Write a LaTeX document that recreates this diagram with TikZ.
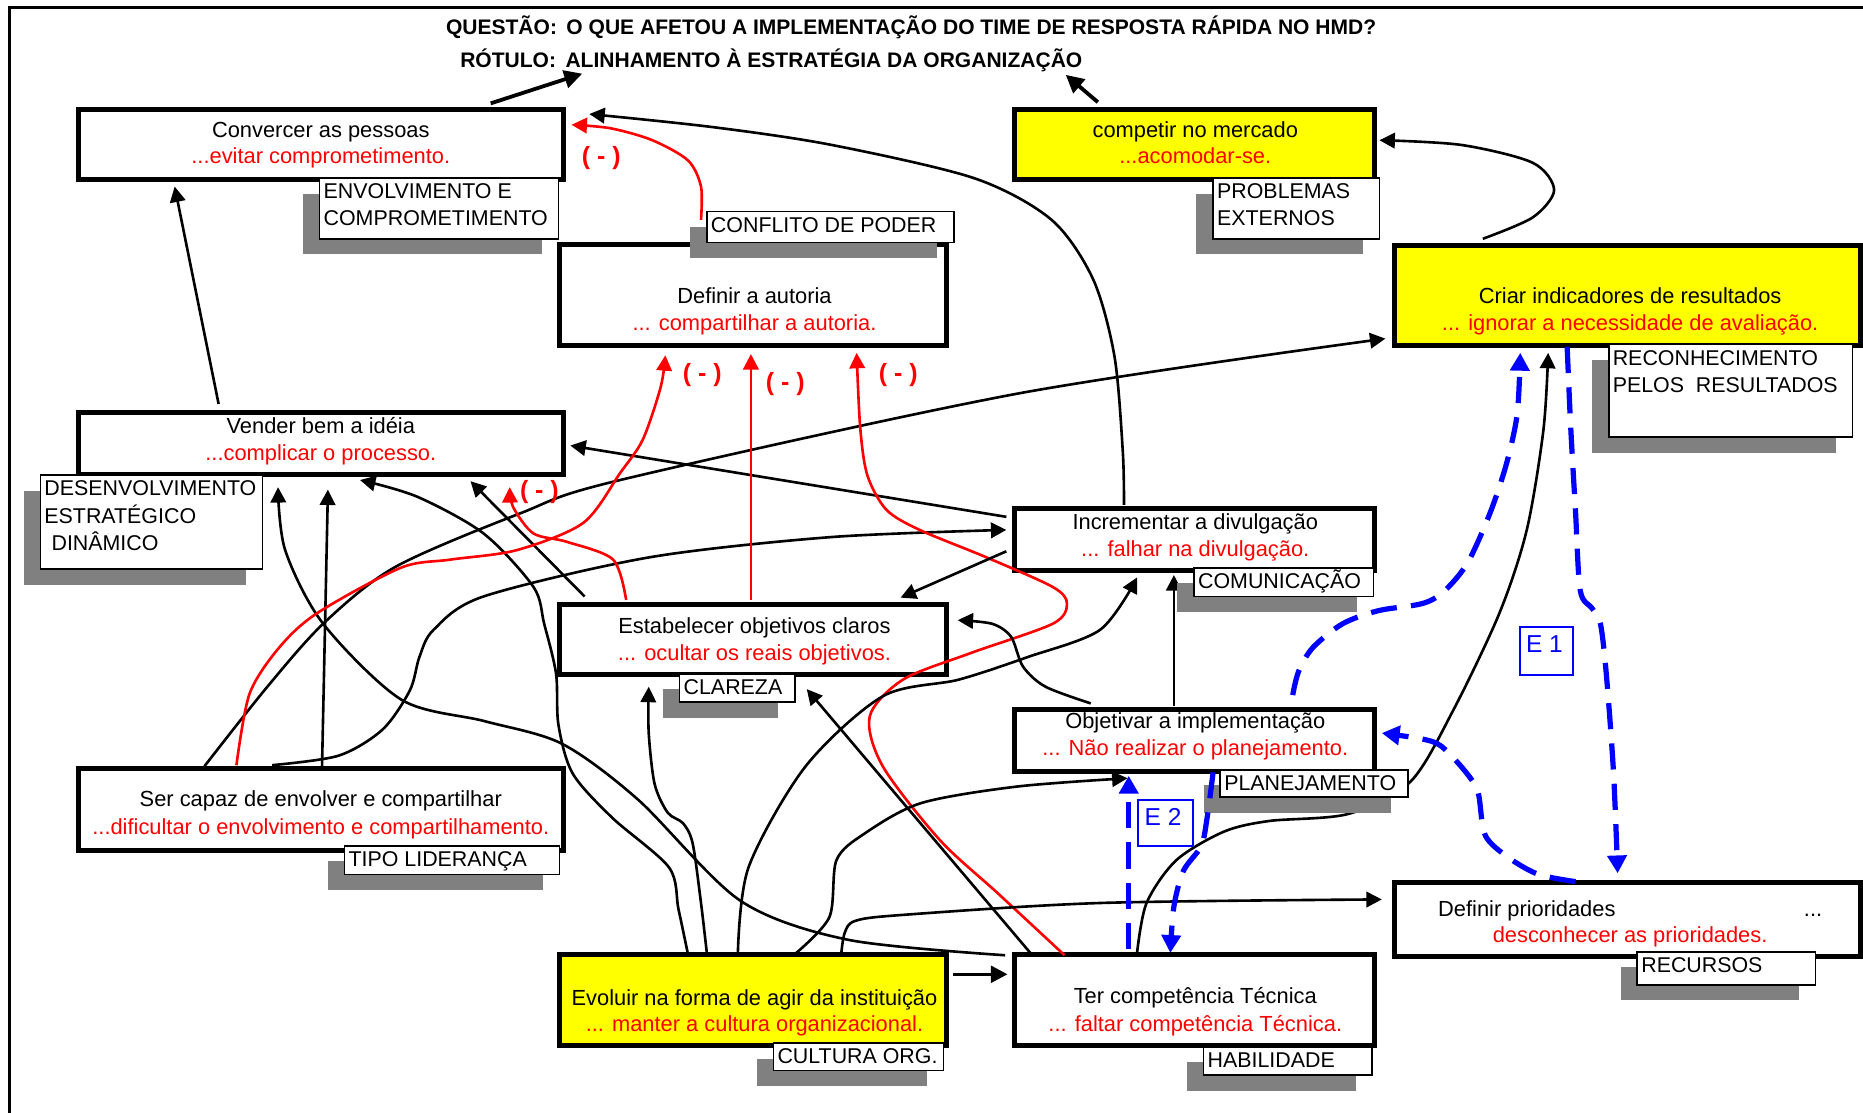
\documentclass[tikz,border=0pt]{standalone}
\usepackage{fontspec}
\setmainfont{Liberation Sans}
\usetikzlibrary{arrows.meta,fit,calc}
\pgfdeclarelayer{boxes}
\pgfdeclarelayer{conns}
\pgfdeclarelayer{bluelayer}
\pgfsetlayers{boxes,conns,main,bluelayer}
\definecolor{shadowgray}{RGB}{128,128,128}
\definecolor{boxyellow}{RGB}{255,255,0}
\tikzset{
  box/.style={draw=black, line width=2.1pt, fill=white, inner sep=0pt, outer sep=0pt},
  ybox/.style={box, fill=boxyellow},
  labbox/.style={draw=black, line width=0.7pt, fill=white, inner sep=0pt, outer sep=0pt},
  labtxt/.style={font=\fontsize{9}{11.4}\selectfont, align=left, inner sep=0pt, anchor=north west},
  btxt/.style={font=\fontsize{9.2}{11}\selectfont, inner sep=0pt, anchor=base},
  rtxt/.style={btxt, text=red},
  ttxt/.style={font=\fontsize{8.85}{10}\selectfont\bfseries, inner sep=0pt, anchor=base west},
  negsign/.style={font=\fontsize{10.5}{12}\selectfont\bfseries, text=red, inner sep=0pt},
  conn/.style={line width=1.1pt, draw=black, -{Triangle[length=6.5pt,width=6.5pt]}},
  rconn/.style={line width=1.1pt, draw=red, -{Triangle[length=6.5pt,width=6.5pt]}},
  tconn/.style={line width=1.6pt, draw=black, -{Triangle[length=7.5pt,width=7.5pt]}},
  hconn/.style={line width=1.4pt, draw=black, -{Triangle[length=7pt,width=7pt]}},
  bconn/.style={line width=2.2pt, draw=blue, dash pattern=on 11pt off 6pt, -{Triangle[length=7.5pt,width=8pt]}},
  ebox/.style={draw=blue, line width=0.8pt, inner sep=0pt, outer sep=0pt},
  etxt/.style={font=\fontsize{10.3}{12}\selectfont, text=blue, inner sep=0pt, anchor=base west},
}
\newcommand\mklabel[6]{%
  \fill[shadowgray] (#2-14,#3+13) rectangle (#4-14,#5+13);
  \node[labbox, fit={(#2,#3) (#4,#5)}] (#1) {};
  \node[labtxt] (#1-t) at (#2+3,#3-2) {\rule{0pt}{9.5pt}#6};
}
\begin{document}
\begin{tikzpicture}[x=0.5pt, y=-0.5pt]
\useasboundingbox (0,0) rectangle (1568,936);

\begin{pgfonlayer}{boxes}
\draw[line width=1.2pt] (1600,6) -- (8,6) -- (8,960);
\node[box, fit={(66,92) (474,151)}] (cv) {};
\node[ybox, fit={(854,92) (1157,151)}] (cp) {};
\node[box, fit={(471,206) (797,291)}] (da) {};
\node[ybox, fit={(1174,207) (1566,291)}] (ci) {};
\node[box, fit={(66,347) (474,399)}] (vd) {};
\node[box, fit={(854,428) (1157,480)}] (id) {};
\node[box, fit={(471,509) (797,568)}] (eo) {};
\node[box, fit={(854,597) (1157,649)}] (oi) {};
\node[box, fit={(66,647) (474,716)}] (sc) {};
\node[box, fit={(1174,743) (1566,805)}] (dp) {};
\node[ybox, fit={(471,803) (797,880)}] (ev) {};
\node[box, fit={(854,803) (1157,880)}] (tc) {};
\end{pgfonlayer}

% titles
\node[ttxt] (t1) at (375,29) {QUESTÃO:\hspace{0.45em}O QUE AFETOU A IMPLEMENTAÇÃO DO TIME DE RESPOSTA RÁPIDA NO HMD?};
\node[ttxt] (t2) at (387,56.5) {RÓTULO:\hspace{0.45em}ALINHAMENTO À ESTRATÉGIA DA ORGANIZAÇÃO};

% labels
\mklabel{lenv}{269}{150}{470}{201}{ENVOLVIMENTO E\\COMPROMETIMENTO}
\mklabel{lprob}{1021}{150}{1161}{201}{PROBLEMAS\\EXTERNOS}
\mklabel{lconf}{595}{178}{803}{204}{CONFLITO DE PODER}
\mklabel{lrec}{1354}{290}{1559}{368}{RECONHECIMENTO\\PELOS\hspace{0.55em}RESULTADOS}
\mklabel{ldes}{34}{400}{221}{479}{DESENVOLVIMENTO\\ESTRATÉGICO\\\hspace*{3pt}DINÂMICO}
\mklabel{lcom}{1005}{478}{1156}{502}{COMUNICAÇÃO}
\mklabel{lcla}{572}{567}{669}{591}{CLAREZA}
\mklabel{lpla}{1027}{648}{1185}{671}{PLANEJAMENTO}
\mklabel{ltip}{290}{712}{471}{736}{TIPO LIDERANÇA}
\mklabel{lrcs}{1378}{801}{1528}{829}{RECURSOS}
\mklabel{lcul}{651}{878}{794}{901}{CULTURA ORG.}
\mklabel{lhab}{1013}{881}{1155}{905}{HABILIDADE}

% box texts
\node[btxt] (cv-a) at (270,115.5) {Convercer as pessoas};
\node[rtxt] (cv-b) at (270,137.5) {...evitar comprometimento.};
\node[btxt] (cp-a) at (1006,115.5) {competir no mercado};
\node[rtxt] (cp-b) at (1006,137.5) {...acomodar-se.};
\node[btxt] (da-a) at (635,255.5) {Definir a autoria};
\node[rtxt] (da-b) at (635,278.5) {... compartilhar a autoria.};
\node[btxt] (ci-a) at (1372,255.5) {Criar indicadores de resultados};
\node[rtxt] (ci-b) at (1372,278.5) {... ignorar a necessidade de avaliação.};
\node[btxt] (vd-a) at (270,364.5) {Vender bem a idéia};
\node[rtxt] (vd-b) at (270,387.5) {...complicar o processo.};
\node[btxt] (id-a) at (1006,445.5) {Incrementar a divulgação};
\node[rtxt] (id-b) at (1006,468.5) {... falhar na divulgação.};
\node[btxt] (eo-a) at (635,533) {Estabelecer objetivos claros};
\node[rtxt] (eo-b) at (635,555.5) {... ocultar os reais objetivos.};
\node[btxt] (oi-a) at (1006,613) {Objetivar a implementação};
\node[rtxt] (oi-b) at (1006,635.5) {... Não realizar o planejamento.};
\node[btxt] (sc-a) at (270,679) {Ser capaz de envolver e compartilhar};
\node[rtxt] (sc-b) at (270,702) {...dificultar o envolvimento e compartilhamento.};
\node[btxt, anchor=base west] (dp-a) at (1210,771) {Definir prioridades};
\node[btxt, anchor=base east] (dp-c) at (1534,771) {...};
\node[rtxt] (dp-b) at (1372,793) {desconhecer as prioridades.};
\node[btxt] (ev-a) at (635,846) {Evoluir na forma de agir da instituição};
\node[rtxt] (ev-b) at (635,868.5) {... manter a cultura organizacional.};
\node[btxt] (tc-a) at (1006,845) {Ter competência Técnica};
\node[rtxt] (tc-b) at (1006,868) {... faltar competência Técnica.};

% (-) signs
\node[negsign] (m0) at (506,133) {( - )};
\node[negsign] (m1) at (454,414) {( - )};
\node[negsign] (m2) at (591,316) {( - )};
\node[negsign] (m3) at (661,323) {( - )};
\node[negsign] (m4) at (756,316) {( - )};

\begin{pgfonlayer}{conns}
\draw[tconn] ($(cv.north east)+(-61,-5)$) -- ($(t2.base west)+(103,5.5)$);
\draw[tconn] ($(cp.north west)+(70,-6)$) -- ($(t2.base west)+(510,6.5)$);
\draw[conn] ($(vd.north west)+(118,-7)$) -- ($(cv.south west)+(81,6)$);
\draw[rconn] plot[smooth] coordinates {($(lconf.north west)+(-5,7)$) (590,157) (579,135) (549,118) (514,108) ($(cv.north east)+(7,13)$)};
\draw[conn] plot[smooth] coordinates {($(id.north west)+(92,-3)$) (945,380) (938,300) (920,235) (885,185) (820,150) (700,122) (600,107) ($(cv.north east)+(22,4)$)};
\draw[conn] plot[smooth] coordinates {($(ci.north west)+(74,-6)$) (1290,183) (1308,160) (1290,137) (1230,122) ($(cp.north east)+(4,26)$)};
\draw[conn] plot[smooth] coordinates {($(sc.north west)+(106,-2)$) (225,578) (273,524) (333,477) (438,432) (522,404) (858,331) ($(ci.south west)+(-8,-6)$)};
\draw[conn] ($(id.north west)+(-7,7)$) -- ($(vd.north east)+(6,28)$);
\draw[conn] plot[smooth] coordinates {($(sc.north west)+(163,-3)$) (285,636) (322,614) (345,581) (353,553) (365,530) (407,502) (547,469) (700,452) ($(id.north west)+(-7,18)$)};
\draw[conn] ($(sc.north west)+(205,0)$) -- ($(vd.south west)+(210,13)$);
\draw[conn] plot[smooth] coordinates {($(tc.north west)+(-8,1)$) (714,791) (623,758) (537,673) (473,626) (408,607) (338,589) (272,525) (240,463) ($(vd.south west)+(168,11)$)};
\draw[conn] plot[smooth] coordinates {($(ev.north west)+(108,0)$) (571,765) (563,730) (515,688) (482,651) (470,610) (468,567) (458,525) (449,494) (407,449) (351,418) ($(vd.south west)+(237,5)$)};
\draw[conn] ($(eo.north west)+(21,-7)$) -- ($(vd.south west)+(330,6)$);
\draw[rconn] plot[smooth] coordinates {($(eo.north west)+(56,-4)$) (516,471) (477,456) (449,449) (432,427) ($(vd.south west)+(363,11)$)};
\draw[rconn] plot[smooth] coordinates {($(sc.north west)+(133,-3)$) (210,584) (235,545) (267,516) (337,478) (379,471) (435,463) (491,440) (522,398) (541,370) (556,326) ($(da.south west)+(89,8)$)};
\draw[rconn] ($(eo.north west)+(161,-4)$) -- ($(da.south west)+(161,7)$);
\draw[rconn] plot[smooth] coordinates {($(tc.north west)+(42,1)$) (840,752) (791,707) (743,645) (732,603) (760,572) (816,550) (886,525) (898,508) (886,494) (830,469) (774,446) (746,429) (730,400) (724,360) ($(da.south west)+(250,6)$)};
\draw[conn] ($(id.south west)+(-7,-16)$) -- ($(eo.north east)+(-39,-6)$);
\draw[conn] plot[smooth] coordinates {($(oi.north west)+(64,-5)$) (880,578) (861,561) (851,536) (835,525) ($(eo.north east)+(9,13)$)};
\draw[conn] ($(oi.north west)+(134,-3)$) -- ($(id.south west)+(134,4)$);
\draw[conn] plot[smooth] coordinates {($(ev.north west)+(150,0)$) (630,730) (678,645) (743,586) (807,572) (865,553) (926,530) ($(id.south west)+(103,6)$)};
\draw[conn] plot[smooth] coordinates {($(ev.north west)+(124,0)$) (590,760) (583,710) (575,693) (562,684) (551,660) (546,617) ($(eo.south west)+(75,10)$)};
\draw[conn] ($(tc.north west)+(14,0)$) -- ($(eo.south east)+(-118,12)$);
\draw[conn] plot[smooth] coordinates {($(tc.north west)+(103,-1)$) (965,760) (990,724) (1030,700) (1068,691) (1135,685) (1187,658) (1223,598) (1262,516) (1285,446) (1299,362) ($(ci.south west)+(129,6)$)};
\draw[conn] plot[smooth] coordinates {($(ev.north west)+(198,0)$) (698,772) (704,724) (727,702) (775,676) (856,662) ($(oi.south west)+(95,6)$)};
\draw[conn] plot[smooth] coordinates {($(ev.north west)+(237,0)$) (711,785) (720,775) (760,770) (926,760) ($(dp.north west)+(-11,14)$)};
\draw[hconn] ($(ev.north east)+(5,17)$) -- ($(tc.north west)+(-6,17)$);
\end{pgfonlayer}

\begin{pgfonlayer}{bluelayer}
\draw[bconn] plot[smooth] coordinates {($(ci.south west)+(145,1)$) (1322,360) (1326,430) (1330,497) (1340,512) (1347,525) (1352,568) (1358,650) ($(dp.north west)+(187.5,-8)$)};
\draw[bconn] plot[smooth] coordinates {($(dp.north west)+(152,-1)$) (1295,736) (1270,722) (1250,703) (1244,667) (1233,649) (1213,628) (1197,622) ($(oi.east)+(6,-6)$)};
\draw[bconn] plot[smooth] coordinates {($(oi.north west)+(234,-12)$) (1093,565) (1105,545) (1130,525) (1160,514) (1197,508) (1215,498) (1235,474) (1254,432) (1268,390) (1277,348) ($(ci.south west)+(105.5,6)$)};
\draw[bconn] ($(tc.north west)+(96,-4)$) -- ($(oi.south west)+(96,4)$);
\draw[bconn] plot[smooth] coordinates {($(oi.south west)+(167,1)$) (1016,688) (1011,712) (996,733) (988,763) ($(tc.north west)+(131,-1)$)};
\node[ebox, fit={(1279,528) (1324,568)}] (e1) {};
\node[etxt] (e1-t) at (1284,549.5) {E 1};
\node[ebox, fit={(958,673) (1004,712)}] (e2) {};
\node[etxt] (e2-t) at (963,694.5) {E 2};
\end{pgfonlayer}
\end{tikzpicture}
\end{document}
